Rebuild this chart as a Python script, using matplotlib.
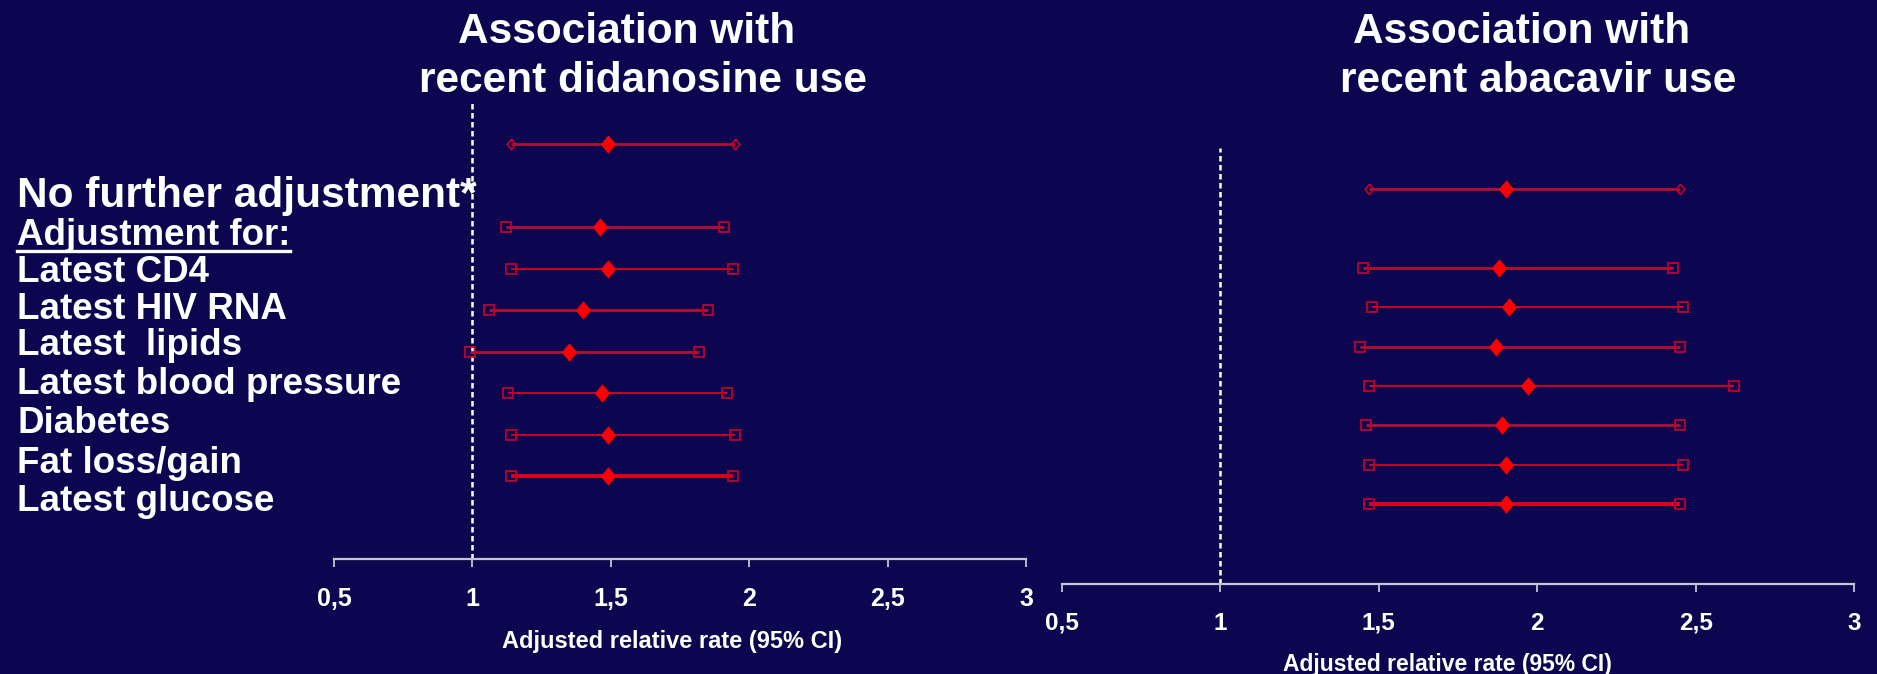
import matplotlib
matplotlib.use("Agg")
import matplotlib.pyplot as plt
from matplotlib import font_manager
from matplotlib.lines import Line2D

# ---------------- data ----------------
categories = ["No further adjustment*", "Latest CD4", "Latest HIV RNA", "Latest  lipids",
              "Latest blood pressure", "Diabetes", "Fat loss/gain", "Latest glucose"]
header_label = "Adjustment for:"

ddi_est = [1.49, 1.46, 1.49, 1.40, 1.35, 1.47, 1.49, 1.49]
ddi_lo = [1.14, 1.12, 1.14, 1.06, 0.99, 1.13, 1.14, 1.14]
ddi_hi = [1.95, 1.91, 1.94, 1.85, 1.82, 1.92, 1.95, 1.94]

abc_est = [1.90, 1.88, 1.91, 1.87, 1.97, 1.89, 1.90, 1.90]
abc_lo = [1.47, 1.45, 1.48, 1.44, 1.47, 1.46, 1.47, 1.47]
abc_hi = [2.45, 2.43, 2.46, 2.45, 2.62, 2.45, 2.46, 2.45]

x_ticks = [0.5, 1, 1.5, 2, 2.5, 3]
x_ticklabels = ["0,5", "1", "1,5", "2", "2,5", "3"]
ref_value = 1
title_left = ["Association with", "recent didanosine use"]
title_right = ["Association with", "recent abacavir use"]
xlabel = "Adjusted relative rate (95% CI)"

# ---------------- style ----------------
BG = "#0b064f"
W, H = 1877, 674
fig = plt.figure(figsize=(W / 100, H / 100), dpi=100, facecolor=BG)

names = {f.name for f in font_manager.fontManager.ttflist}
narrow = "Liberation Sans Narrow" in names
AX_FONT = "Liberation Sans Narrow" if narrow else "Liberation Sans"
TXT_FONT = "Liberation Sans"

row_pos = [0, 2, 3, 4, 5, 6, 7, 8]
DARK = "#b50f2e"
BRIGHT = "#e00018"
left_styles = ["d", "d", "t", "d", "d", "t", "t", "x"]
right_styles = ["d", "d", "t", "d", "t", "d", "t", "x"]
style_map = {"d": (DARK, 2.0), "t": (BRIGHT, 1.3), "x": (BRIGHT, 2.8)}

diamond = [(0, 1.2), (1, 0), (0, -1.2), (-1, 0), (0, 1.2)]


def px_rect(l, r, top, bottom):
    return [l / W, 1 - bottom / H, (r - l) / W, (bottom - top) / H]


def panel(rect, ylim, est, lo, hi, styles, tick_size, lab_size, lab_xy, pad):
    ax = fig.add_axes(rect)
    ax.set_facecolor("none")
    ax.set_xlim(0.5, 3)
    ax.set_ylim(*ylim)
    for s in ["top", "left", "right"]:
        ax.spines[s].set_visible(False)
    ax.spines["bottom"].set_color("#c4c4d4")
    ax.spines["bottom"].set_linewidth(1.6)
    ax.set_yticks([])
    ax.set_xticks(x_ticks)
    ax.set_xticklabels(x_ticklabels, fontfamily=AX_FONT, fontweight="bold",
                       fontsize=tick_size, color="white")
    ax.tick_params(axis="x", colors="#c4c4d4", length=6, width=1.3, pad=pad,
                   labelcolor="white")
    ax.axvline(ref_value, color="white", lw=1.8, ls=(0, (2.2, 1.4)), zorder=1)
    for i, y in enumerate(row_pos):
        col, lw = style_map[styles[i]]
        ax.plot([lo[i], hi[i]], [y, y], color=col, lw=lw, zorder=2, solid_capstyle="butt")
        if i == 0:
            ax.plot([lo[i], hi[i]], [y, y], ls="none", marker=diamond, ms=7.5,
                    mfc="none", mec="#c0002a", mew=1.2, zorder=3)
        else:
            ax.plot([lo[i], hi[i]], [y, y], ls="none", marker="s", ms=6.5,
                    mfc="none", mec="#c0002a", mew=1.3, zorder=3)
        ax.plot([est[i]], [y], ls="none", marker=diamond, ms=12.5, mfc="#ff0000",
                mec="#ff0000", mew=0.5, zorder=4)
    ax.set_xlabel(xlabel, fontfamily=AX_FONT, fontweight="bold", fontsize=lab_size,
                  color="white")
    ax.xaxis.set_label_coords(*lab_xy)
    ax.xaxis.label.set_va("baseline")
    return ax


# left panel: rows at 144.3 + i*41.5 px, axis at 559 px, top 100 px
lt, lb, lstep, l0 = 100, 559, 41.5, 144.3
axL = panel(px_rect(334, 1026, lt, lb), ((lb - l0) / lstep, (lt - l0) / lstep),
            ddi_est, ddi_lo, ddi_hi, left_styles, 18, 20 if narrow else 17,
            ((672 - 334) / 692, (lb - 648) / (lb - lt)), 14)

# right panel: rows at 189 + i*39.4 px, axis at 584 px, top 148 px
rt, rb, rstep, r0 = 148, 584, 39.4, 189
axR = panel(px_rect(1062, 1854, rt, rb), ((rb - r0) / rstep, (rt - r0) / rstep),
            abc_est, abc_lo, abc_hi, right_styles, 17.5, 19.5 if narrow else 16.5,
            ((1447 - 1062) / 792, (rb - 670.7) / (rb - rt)), 14)

# titles
def ftext(x, y, s, **kw):
    return fig.text(x / W, 1 - y / H, s, color="white", fontfamily=TXT_FONT,
                    fontweight="bold", va="baseline", **kw)

ftext(627, 43.3, title_left[0], fontsize=30.5, ha="center")
ftext(643, 91.7, title_left[1], fontsize=30.5, ha="center")
ftext(1522, 43.3, title_right[0], fontsize=30.5, ha="center")
ftext(1538, 91.7, title_right[1], fontsize=30.5, ha="center")

# left-hand row labels
ftext(17, 206.7, categories[0], fontsize=30.5, ha="left")
hdr = ftext(17, 245, header_label, fontsize=26.5, ha="left")
label_base = [281.7, 319.3, 355, 394, 433.3, 472.7, 510.7]
for s, yb in zip(categories[1:], label_base):
    ftext(17, yb, s, fontsize=26.5, ha="left")

# underline for header
fig.canvas.draw()
bb = hdr.get_window_extent()
uy = 1 - 250.5 / H
fig.add_artist(Line2D([bb.x0 / W, bb.x1 / W], [uy, uy], color="white", lw=2.4,
                      transform=fig.transFigure))

fig.savefig("out.png", dpi=100, facecolor=BG)
